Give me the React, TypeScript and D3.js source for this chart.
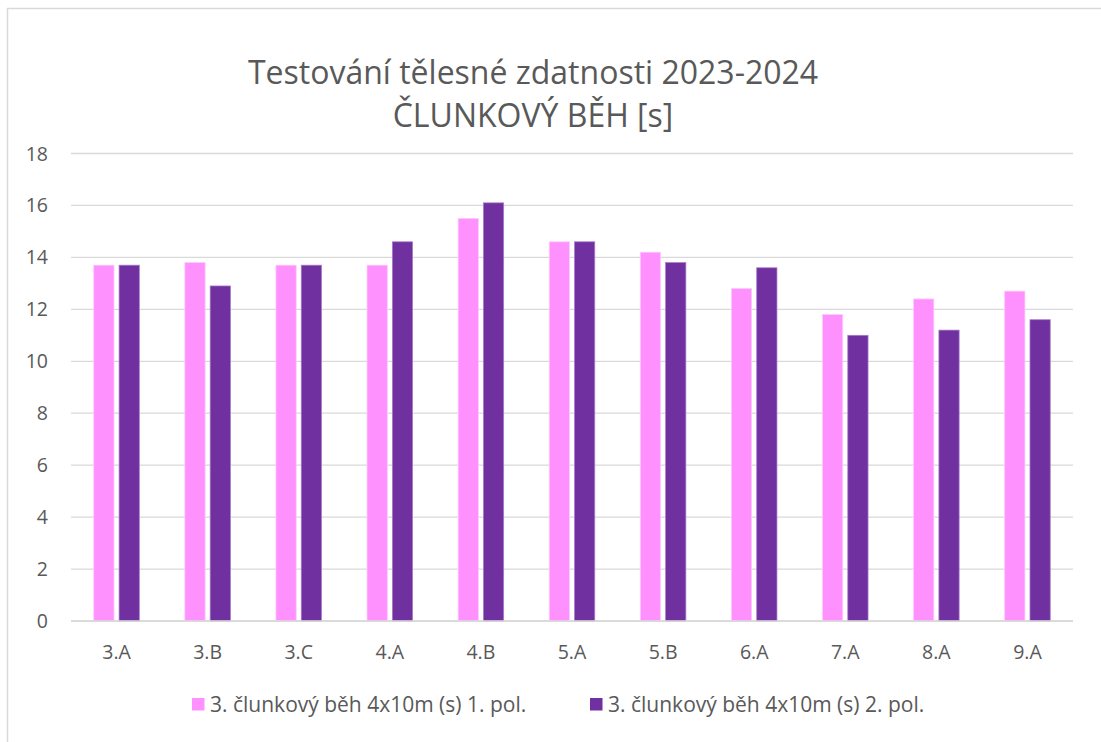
import React from "react";
import * as d3 from "d3";

const categories = ["3.A", "3.B", "3.C", "4.A", "4.B", "5.A", "5.B", "6.A", "7.A", "8.A", "9.A"];
const series1 = [13.7, 13.8, 13.7, 13.7, 15.5, 14.6, 14.2, 12.8, 11.8, 12.4, 12.7];
const series2 = [13.7, 12.9, 13.7, 14.6, 16.1, 14.6, 13.8, 13.6, 11.0, 11.2, 11.6];
const seriesNames = ["3. člunkový běh 4x10m (s) 1. pol.", "3. člunkový běh 4x10m (s) 2. pol."];
const yTicks = [0, 2, 4, 6, 8, 10, 12, 14, 16, 18];
const titleLines = ["Testování tělesné zdatnosti 2023-2024", "ČLUNKOVÝ BĚH [s]"];

const W = 1101;
const H = 742;
const colors = ["#FF91FF", "#7030A0"];
const strokes = ["#FFC8FF", "#A77CC6"];
const textColor = "#595959";
const font = "'Open Sans', 'Noto Sans', sans-serif";

export default function App() {
  const left = 71, right = 1073, top = 153.5, bottom = 621;
  const x = d3.scaleBand<string>().domain(categories).range([left, right]).paddingInner(0.5).paddingOuter(0.25);
  const xs = d3.scaleBand<string>().domain(["0", "1"]).range([0, x.bandwidth()]).paddingInner(0.2);
  const y = d3.scaleLinear().domain([0, 18]).range([bottom, top]);
  const data = [series1, series2];

  return (
    <svg width={W} height={H} style={{ position: "absolute", left: 0, top: 0 }}>
      <rect x={0} y={0} width={W} height={H} fill="#fff" />
      <line x1={7.5} y1={8} x2={7.5} y2={H} stroke="#d9d9d9" strokeWidth={1.5} />
      <line x1={7} y1={8.5} x2={W} y2={8.5} stroke="#d9d9d9" strokeWidth={1.5} />
      {titleLines.map((t, i) => (
        <text key={i} x={533} y={84 + i * 43} textAnchor="middle" fontFamily={font} fontSize={32} fill={textColor}>
          {t}
        </text>
      ))}
      {yTicks.map((t) => (
        <g key={t}>
          <line x1={left} x2={right} y1={y(t)} y2={y(t)} stroke="#d9d9d9" strokeWidth={1.3} />
          <text x={48} y={y(t) + 7} textAnchor="end" fontFamily={font} fontSize={19.5} fill={textColor}>
            {t}
          </text>
        </g>
      ))}
      {categories.map((c, ci) =>
        data.map((s, si) => (
          <rect
            key={c + si}
            x={(x(c) as number) + (xs(String(si)) as number)}
            y={y(s[ci])}
            width={xs.bandwidth()}
            height={bottom - y(s[ci])}
            fill={colors[si]}
            stroke={strokes[si]}
            strokeWidth={0.75}
          />
        ))
      )}
      <line x1={left} x2={right} y1={bottom} y2={bottom} stroke="#d9d9d9" strokeWidth={1.3} />
      {categories.map((c) => (
        <text key={c} x={(x(c) as number) + x.bandwidth() / 2} y={659} textAnchor="middle" fontFamily={font} fontSize={19.5} fill={textColor}>
          {c}
        </text>
      ))}
      {seriesNames.map((n, i) => (
        <g key={n} transform={`translate(${i === 0 ? 192 : 590},0)`}>
          <rect x={0} y={698} width={12.5} height={12.5} fill={colors[i]} />
          <text x={18} y={712} fontFamily={font} fontSize={21} fill={textColor}>
            {n}
          </text>
        </g>
      ))}
    </svg>
  );
}
